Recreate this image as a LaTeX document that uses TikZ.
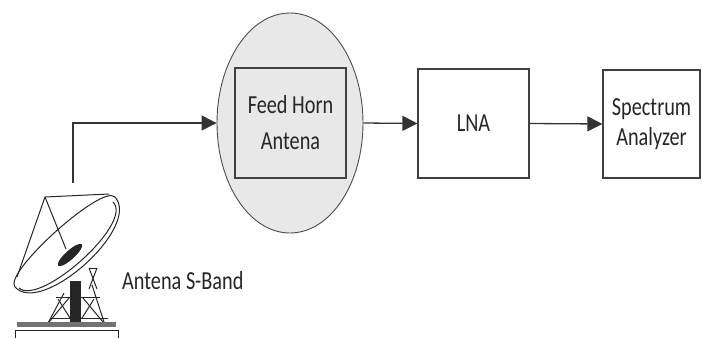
\documentclass[tikz,border=0pt]{standalone}
\usepackage{fontspec}
\setmainfont[FakeStretch=0.78]{Carlito}
\usetikzlibrary{arrows.meta,shapes.geometric}
\begin{document}
\begin{tikzpicture}[x=1pt,y=-1pt,
  lbl/.style={font=\fontsize{26}{36}\selectfont, text=black!85},
  blk/.style={lbl, draw=black!75, line width=1.2pt, inner sep=0pt, align=center},
  conn/.style={draw=black!80, line width=1.3pt, -{Triangle[length=15pt,width=15pt]}},
  ant/.style={line width=1pt, black!85}]
\useasboundingbox (0,0) rectangle (702,338);

% feed horn enclosure
\node[ellipse, draw=black!70, line width=0.9pt, fill=black!9,
      minimum width=146pt, minimum height=220pt, inner sep=0pt] (horn) at (290,123) {};
\node[blk, minimum width=111pt, minimum height=110pt] (feed) at (290.5,123) {Feed Horn\\Antena};

% signal chain blocks
\node[blk, minimum width=111pt, minimum height=109pt] (lna) at (473.5,123.5) {LNA};
\node[blk, minimum width=97pt, minimum height=108pt, font=\fontsize{26}{30}\selectfont] (sa) at (651.5,124) {Spectrum\\Analyzer};

% connectors
\coordinate (feedpt) at (73,183);
\draw[conn] (feedpt) |- (horn.west);
\draw[conn] (horn.east) -- (lna.west);
\draw[conn] (lna.east) -- (sa.west);

% dish antenna
\begin{scope}[ant]
  % dish rim and back
  \draw (115,197) .. controls (102.5,183.2) and (2.5,273.2) .. (15,287);
  \draw (115,197) .. controls (141.8,226.6) and (41.8,316.6) .. (15,287);
  \draw (113,202) .. controls (134.4,222.7) and (40.4,306.7) .. (19,288);
  % feed support struts
  \draw (45,197) -- (109,194);
  \draw (45,197) -- (17,277);
  \draw (45,197) -- (66,249);
  % hub
  \fill[rotate around={42:(70,255)}] (70,255) ellipse [x radius=16pt, y radius=4.5pt];
  % mast
  \fill (70,281) rectangle (81,324);
  % lattice legs and bracing
  \draw (47,325) -- (64,293);
  \draw (105,325) -- (92,285);
  \draw (56,297) -- (100,297);
  \draw (50,318) -- (108,318);
  \draw (49,322) -- (69,298);
  \draw (58,299) -- (70,318);
  \draw (103,322) -- (83,298);
  \draw (94,299) -- (82,318);
  \draw (89,268) -- (97,289);
  \draw (97,268) -- (89,289);
  \draw (89,268) -- (97,268);
  % base
  \fill[black!55] (17,322) rectangle (116,327);
  \draw (15,330) -- (118,330);
  \draw (15,330) -- (15,338);
  \draw (118,330) -- (118,338);
\end{scope}
\node[lbl, anchor=base west, inner sep=0pt] (antlabel) at (122,289) {Antena S-Band};
\end{tikzpicture}
\end{document}
